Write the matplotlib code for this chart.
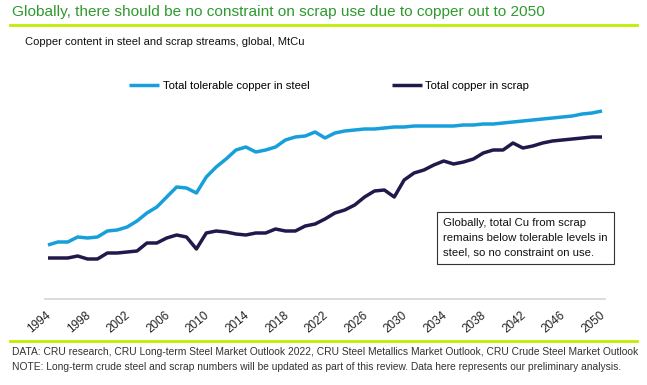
import matplotlib
matplotlib.use("Agg")
import matplotlib.pyplot as plt
from matplotlib.lines import Line2D
import matplotlib.transforms as mtransforms
import numpy as np

plt.rcParams['font.family'] = ['Liberation Sans', 'DejaVu Sans']

years = list(range(1994, 2051))
tolerable_cu_steel = [
    0.54, 0.57, 0.57, 0.62, 0.61, 0.62, 0.68, 0.69, 0.72, 0.78,
    0.86, 0.92, 1.02, 1.12, 1.11, 1.06, 1.22, 1.32, 1.40, 1.49,
    1.52, 1.47, 1.49, 1.52, 1.59, 1.62, 1.63, 1.67, 1.61, 1.66,
    1.68, 1.69, 1.70, 1.70, 1.71, 1.72, 1.72, 1.73, 1.73, 1.73,
    1.73, 1.73, 1.74, 1.74, 1.75, 1.75, 1.76, 1.77, 1.78, 1.79,
    1.80, 1.81, 1.82, 1.83, 1.85, 1.86, 1.88]
cu_in_scrap = [
    0.41, 0.41, 0.41, 0.43, 0.40, 0.40, 0.46, 0.46, 0.47, 0.48,
    0.56, 0.56, 0.61, 0.64, 0.62, 0.50, 0.66, 0.68, 0.67, 0.65,
    0.64, 0.66, 0.66, 0.70, 0.68, 0.68, 0.73, 0.75, 0.80, 0.86,
    0.89, 0.94, 1.02, 1.08, 1.09, 1.02, 1.19, 1.26, 1.29, 1.34,
    1.38, 1.35, 1.37, 1.40, 1.46, 1.49, 1.49, 1.56, 1.51, 1.53,
    1.56, 1.58, 1.59, 1.60, 1.61, 1.62, 1.62]
tick_years = list(range(1994, 2051, 4))

series_names = ["Total tolerable copper in steel", "Total copper in scrap"]
title = "Globally, there should be no constraint on scrap use due to copper out to 2050"
subtitle = "Copper content in steel and scrap streams, global, MtCu"
note_box = "Globally, total Cu from scrap\nremains below tolerable levels in\nsteel, so no constraint on use."
footer1 = ("DATA: CRU research, CRU Long-term Steel Market Outlook 2022, "
           "CRU Steel Metallics Market Outlook, CRU Crude Steel Market Outlook")
footer2 = ("NOTE: Long-term crude steel and scrap numbers will be updated as part of this review. "
           "Data here represents our preliminary analysis.")

W, H = 647, 385
fig = plt.figure(figsize=(W / 100, H / 100), dpi=100)

def fx(px):
    return px / W

def fy(py):
    return 1 - py / H

ax = fig.add_axes([fx(45), fy(299), fx(605) - fx(45), fy(60) - fy(299)])
blue = "#169FDB"
navy = "#1F1A4B"
l1, = ax.plot(years, tolerable_cu_steel, color=blue, lw=2.5, solid_joinstyle='round',
              solid_capstyle='butt', label=series_names[0])
l2, = ax.plot(years, cu_in_scrap, color=navy, lw=2.5, solid_joinstyle='round',
              solid_capstyle='butt', label=series_names[1])

ax.set_xlim(1994 - 3 / 9.89, 2050 + 3 / 9.89)
ax.set_ylim(0, 2.39)
for s in ["left", "right", "top"]:
    ax.spines[s].set_visible(False)
ax.spines["bottom"].set_color("#D9D9D9")
ax.spines["bottom"].set_linewidth(1.3)
ax.set_yticks([])
ax.set_xticks(tick_years)
ax.set_xticklabels([str(y) for y in tick_years], rotation=40, ha='right', va='top',
                   fontsize=8.5, color="#222222")
ax.tick_params(axis='x', length=0, pad=7.5)
offset = mtransforms.ScaledTranslation(4 / 72, 0, fig.dpi_scale_trans)
for lab in ax.get_xticklabels():
    lab.set_transform(lab.get_transform() + offset)

# legend
fig.legend(handles=[l1, l2], loc='center left', bbox_to_anchor=(fx(129), fy(86)),
           ncol=2, frameon=False, fontsize=8.1, handlelength=2.7, handletextpad=0.3,
           columnspacing=7.3, borderpad=0, borderaxespad=0)

# title
fig.text(fx(12), fy(12), title, color="#2E9A2E", fontsize=11.1, va='center', ha='left')
fig.add_artist(Line2D([fx(10), fx(637)], [fy(25), fy(25)], color="#BDEE00", lw=2))
fig.text(fx(25), fy(42), subtitle, color="#111111", fontsize=8, va='center', ha='left')

# note box
fig.text(fx(443), fy(238), note_box, fontsize=8.2, va='center', ha='left', color="#111111",
         linespacing=1.6,
         bbox=dict(boxstyle='square,pad=0.55', facecolor='white', edgecolor='#333333', lw=0.8))

# footer
fig.add_artist(Line2D([fx(10), fx(637)], [fy(341), fy(341)], color="#BDEE00", lw=2))
fig.text(fx(12), fy(352), footer1, fontsize=7.35, va='center', ha='left', color="#333333")
fig.text(fx(12), fy(367), footer2, fontsize=7.35, va='center', ha='left', color="#333333")

fig.savefig("out.png", dpi=100)
